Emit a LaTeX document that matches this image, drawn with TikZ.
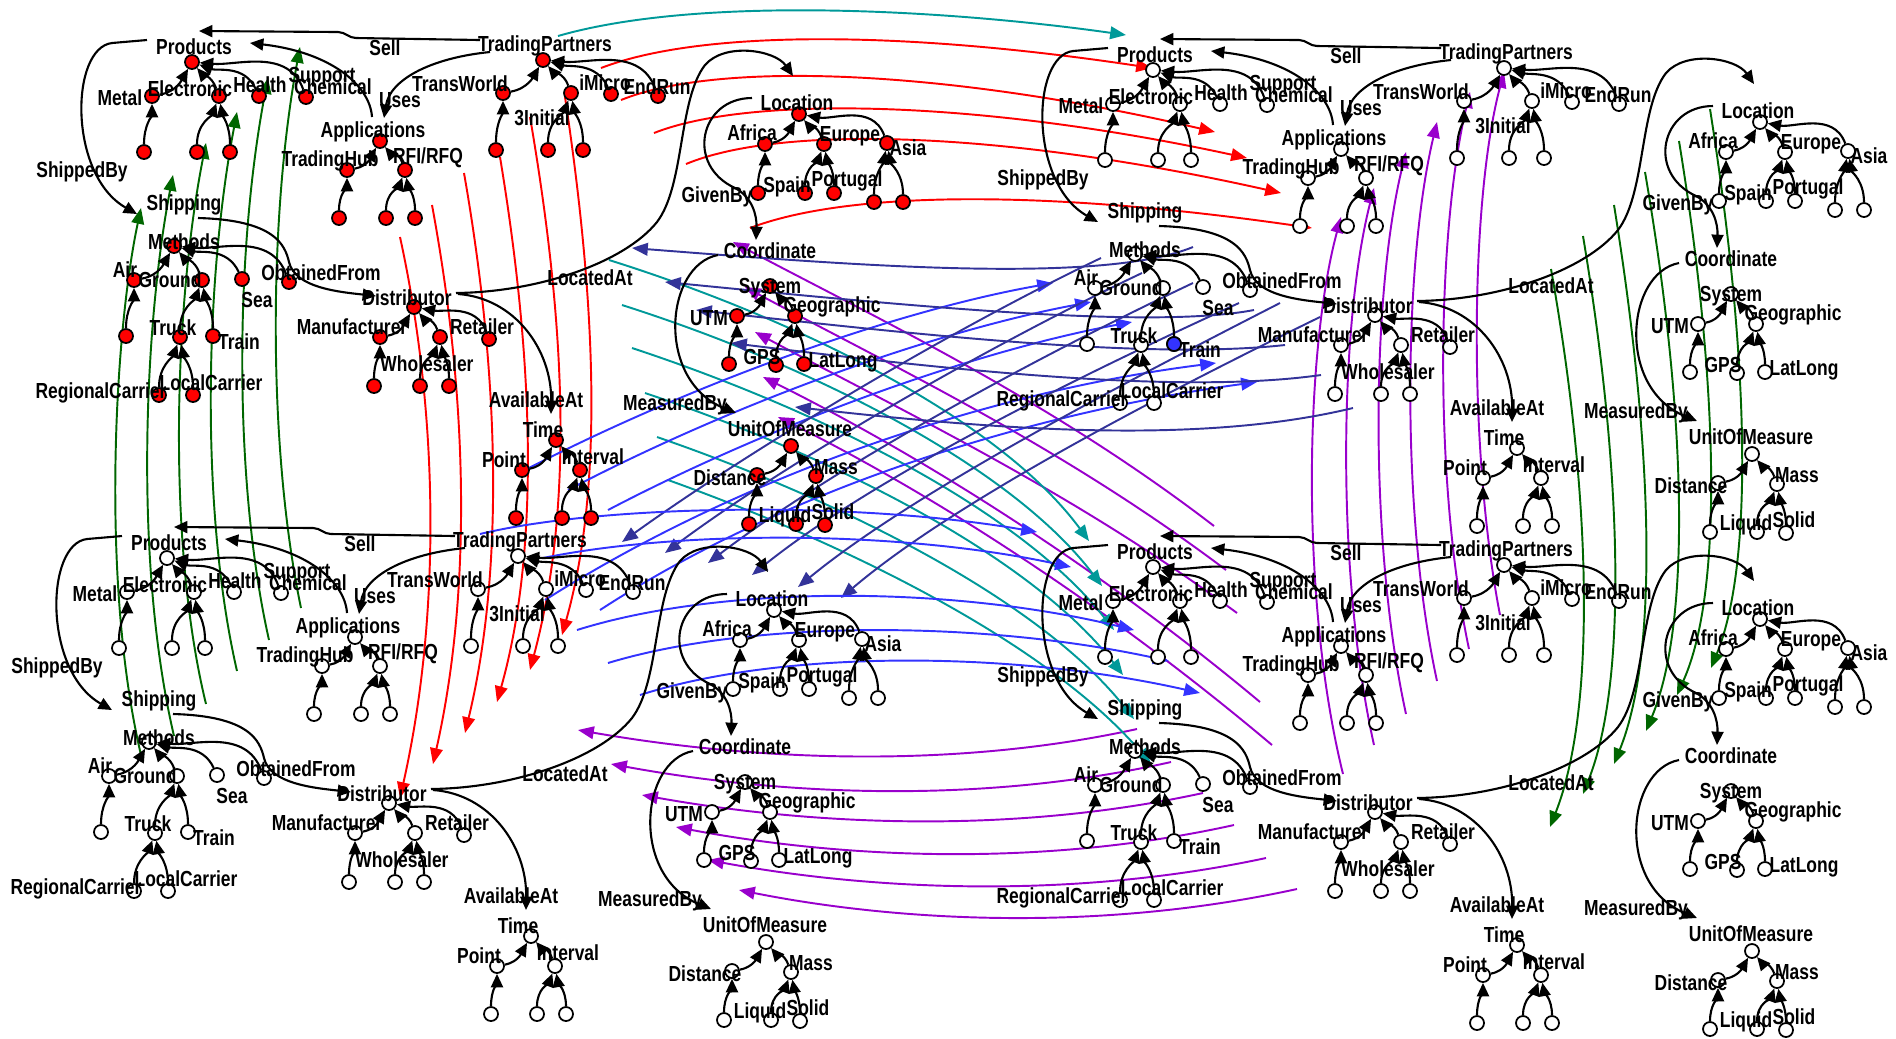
\documentclass[tikz,border=0pt]{standalone}
\usepackage{fontspec}
\setmainfont{Liberation Sans}[FakeStretch=0.8]
\usetikzlibrary{arrows.meta,backgrounds}
\definecolor{mred}{HTML}{FF0000}
\definecolor{mgreen}{HTML}{006600}
\definecolor{mteal}{HTML}{009999}
\definecolor{mblue}{HTML}{3333FF}
\definecolor{mslate}{HTML}{333399}
\definecolor{mpurple}{HTML}{9900CC}
\tikzset{
 cn/.style={circle,draw=black,line width=0.5pt,minimum size=0.14cm,inner sep=0pt,fill=white},
 lab/.style={font=\bfseries\fontsize{6.2}{7}\selectfont,inner sep=0pt},
 edg/.style={draw=black,line width=0.6pt,-{Triangle[length=3.8pt,width=3.4pt]}},
 map/.style={line width=0.55pt,-{Triangle[length=4.5pt,width=3.6pt]}},
}
\newcommand\onto[4]{%
\begin{scope}[shift={(#2,#3)},name prefix=#1-]
\foreach \n/\x/\y in {P/192/62, M/152/96, E/219/96, H/259/96, C/306/97, Ml/144/152, El1/197/152, El2/230/152,
 T/543/60, TW/503/93, TI/571/93, IM/611/94, ER/658/96, TWl/496/150, TIl1/548/150, TIl2/583/150,
 A/380/141, TH/347/170, R/405/170, THl/339/218, Rl1/386/218, Rl2/415/218,
 Me/174/246, Ai/134/280, G/202/280, Se/242/279, N4/289/282, Ail/126/336, Tk/180/337, Tn/213/336, RC/159/395, LC/193/395,
 D/414/307, Mf/380/337, W/440/337, Rt/489/339, Mfl/374/386, Wl1/420/386, Wl2/449/386,
 Ti/556/440, Pt/522/470, In/580/470, Ptl/516/518, Inl1/562/518, Inl2/591/518,
 L/799/114, Af/765/144, Eu/824/144, As/887/143, Sp/758/193, Eul/805/193, Po/834/193, Asl1/874/202, Asl2/903/202,
 Sy/770/286, Ut/737/316, Ge/795/316, Utl/729/364, Gel1/776/365, LL/804/364,
 U/791/446, Di/757/475, Ma/816/476, Dil/749/524, Lq/796/524, So/825/525}
 {\node[cn,fill=#4] (\n) at (\x,\y) {};}
\foreach \c/\p/\o/\i in {M/P/10/-120, E/P/110/-50, H/P/115/-20, C/P/110/-5, Ml/M/90/-90, El1/E/90/-110, El2/E/90/-80,
 TW/T/10/-120, TI/T/110/-50, IM/T/115/-15, ER/T/110/-5, TWl/TW/90/-90, TIl1/TI/90/-110, TIl2/TI/90/-80,
 TH/A/10/-120, R/A/110/-50, THl/TH/90/-90, Rl1/R/90/-110, Rl2/R/90/-80,
 Ai/Me/10/-120, G/Me/110/-50, Se/Me/115/-15, N4/Me/110/-5, Ail/Ai/90/-90, Tk/G/90/-110, Tn/G/90/-80, RC/Tk/90/-110, LC/Tk/90/-80,
 Mf/D/10/-120, W/D/110/-50, Rt/D/110/-10, Mfl/Mf/90/-90, Wl1/W/90/-110, Wl2/W/90/-80,
 Pt/Ti/10/-120, In/Ti/110/-50, Ptl/Pt/90/-90, Inl1/In/90/-110, Inl2/In/90/-80,
 Af/L/10/-120, Eu/L/110/-50, As/L/110/-10, Sp/Af/90/-90, Eul/Eu/90/-110, Po/Eu/90/-80, Asl1/As/90/-100, Asl2/As/90/-80,
 Ut/Sy/10/-120, Ge/Sy/110/-50, Utl/Ut/90/-90, Gel1/Ge/90/-110, LL/Ge/90/-80,
 Di/U/10/-120, Ma/U/110/-50, Dil/Di/90/-90, Lq/Ma/90/-110, So/Ma/90/-80}
 {\draw[edg] (\c) to[out=\o,in=\i] (\p);}
\foreach \n/\x/\y/\t in {lP/194/47/Products, lM/120/98/Metal, lE/190/89/Electronic, lH/260/85/Health, lC/333/87/Chemical,
 lSup/322/77/Support, lSell/385/48/Sell, lT/545/46/TradingPartners, lTW/460/84/TransWorld, lUses/400/100/Uses,
 lTI/542/118/3Initial, lIM/605/83/iMicro, lER/657/87/EndRun, lA/373/132/Applications, lTH/330/161/TradingHub,
 lSB/82/172/ShippedBy, lS/184/205/Shipping, lMe/184/242/Methods, lAi/125/270/Air, lG/170/280/Ground, lSe/257/300/Sea,
 lOF/321/273/ObtainedFrom, lTk/173/328/Truck, lTn/239/342/Train, lRC/101/393/RegionalCarrier, lLC/211/383/LocalCarrier,
 lD/407/298/Distributor, lMf/352/327/Manufacturer, lRt/482/327/Retailer, lW/427/364/Wholesaler, lLA/590/278/LocatedAt,
 lAA/536/400/AvailableAt, lTi/543/430/Time, lPt/504/460/Point, lIn/593/457/Interval, lL/797/103/Location,
 lAf/752/133/Africa, lEu/850/136/Europe, lAs/908/148/Asia, lSp/787/187/Spain, lPo/847/181/Portugal, lGB/717/197/GivenBy,
 lCo/770/251/Coordinate, lSy/770/288/System, lUt/709/318/UTM, lGe/832/307/Geographic, lGPS/762/357/GPS,
 lLL/843/362/LatLong, lMB/675/405/MeasuredBy, lU/790/429/UnitOfMeasure, lDi/730/478/Distance, lMa/836/467/Mass,
 lLq/785/517/Liquid, lSo/833/512/Solid}
 {\node[lab] (\n) at (\x,\y) {\t};}
\node[lab] (lR) at (428,158) {RFI/RFQ};
% property edges
\coordinate (sSell) at (480,40);
\coordinate (sUses) at (490,52);
\coordinate (sSup) at (372,117);
\coordinate (sSB) at (147,40);
\coordinate (sOF) at (198,218);
\coordinate (sLA) at (456,293);
\coordinate (sAA) at (458,294);
\coordinate (sGB) at (752,98);
\coordinate (sMB) at (718,255);
\coordinate (eSell) at (199,31);
\coordinate (eSup) at (250,43);
\coordinate (eUses) at (384,118);
\coordinate (eSB) at (137,214);
\coordinate (eOF) at (376,296);
\coordinate (eLA) at (793,76);
\coordinate (eAA) at (551,414);
\coordinate (eGB) at (756,240);
\coordinate (eMB) at (736,413);
\draw[edg] (sSell) -- (356,38) to[out=180,in=0] (338,32) -- (eSell);
\draw[edg] (sSup) .. controls (370,85) and (330,52) .. (eSup);
\draw[edg] (sUses) .. controls (430,58) and (390,80) .. (eUses);
\draw[edg] (sSB) -- (112,43) .. controls (70,48) and (68,175) .. (eSB);
\draw[edg] (sOF) .. controls (275,220) and (285,245) .. (289,262) .. controls (295,288) and (340,292) .. (eOF);
\draw[edg] (sLA) .. controls (540,292) and (625,262) .. (657,222) .. controls (685,185) and (678,100) .. (705,65) .. controls (725,42) and (775,50) .. (eLA);
\draw[edg] (sAA) .. controls (515,298) and (552,350) .. (eAA);
\draw[edg] (sGB) .. controls (700,98) and (685,165) .. (735,188) .. controls (752,197) and (757,215) .. (eGB);
\draw[edg] (sMB) .. controls (665,265) and (655,380) .. (eMB);
\end{scope}}
\begin{document}
\begin{tikzpicture}[x=0.01cm,y=-0.01cm]
\useasboundingbox (0,0) rectangle (1896,1038);
\onto{TL}{0}{0}{mred}
\onto{TR}{961}{8}{white}
\onto{BL}{-25}{496}{white}
\onto{BR}{961}{505}{white}
\node[cn,fill=mblue] (TRtrain) at (TR-Tn) {};
\begin{scope}[on background layer]
% teal top
\draw[map,mteal] (558,36) .. controls (700,-5) and (950,10) .. (1126,35);
% red TL -> TR
\draw[map,mred] (601,68) .. controls (700,30) and (900,30) .. (1152,68);
\draw[map,mred] (621,100) .. controls (720,60) and (950,70) .. (1215,132);
\draw[map,mred] (654,133) .. controls (750,95) and (980,100) .. (1247,158);
\draw[map,mred] (686,164) .. controls (780,125) and (1000,130) .. (1281,193);
\draw[map,mred] (750,228) .. controls (850,190) and (1050,190) .. (1312,228);
% red TL -> BL
\draw[map,mred] (400,237) .. controls (440,420) and (440,620) .. (400,798);
\draw[map,mred] (432,205) .. controls (470,410) and (470,600) .. (433,764);
\draw[map,mred] (464,173) .. controls (502,390) and (502,580) .. (465,733);
\draw[map,mred] (500,157) .. controls (537,380) and (537,560) .. (497,702);
\draw[map,mred] (530,117) .. controls (570,350) and (570,520) .. (530,670);
\draw[map,mred] (565,97) .. controls (600,330) and (600,500) .. (562,635);
% green BL -> TL
\draw[map,mgreen] (141,755) .. controls (100,580) and (115,330) .. (141,208);
\draw[map,mgreen] (174,736) .. controls (133,560) and (145,320) .. (173,175);
\draw[map,mgreen] (206,704) .. controls (166,540) and (175,300) .. (206,143);
\draw[map,mgreen] (237,671) .. controls (200,510) and (205,280) .. (237,112);
\draw[map,mgreen] (269,640) .. controls (233,480) and (235,250) .. (268,78);
\draw[map,mgreen] (301,608) .. controls (268,450) and (268,220) .. (300,47);
% green TR -> BR
\draw[map,mgreen] (1710,109) .. controls (1748,350) and (1755,560) .. (1711,668);
\draw[map,mgreen] (1679,141) .. controls (1718,380) and (1724,590) .. (1677,695);
\draw[map,mgreen] (1645,172) .. controls (1686,410) and (1692,620) .. (1646,731);
\draw[map,mgreen] (1614,205) .. controls (1652,440) and (1660,650) .. (1614,764);
\draw[map,mgreen] (1583,236) .. controls (1622,470) and (1628,680) .. (1583,794);
\draw[map,mgreen] (1551,269) .. controls (1592,500) and (1596,710) .. (1550,827);
% purple BR -> TR
\draw[map,mpurple] (1343,774) .. controls (1300,600) and (1305,350) .. (1341,217);
\draw[map,mpurple] (1374,745) .. controls (1335,570) and (1340,320) .. (1374,188);
\draw[map,mpurple] (1406,714) .. controls (1368,540) and (1372,290) .. (1406,152);
\draw[map,mpurple] (1437,681) .. controls (1400,510) and (1404,260) .. (1437,122);
\draw[map,mpurple] (1469,649) .. controls (1433,480) and (1437,230) .. (1470,92);
\draw[map,mpurple] (1500,615) .. controls (1468,450) and (1470,200) .. (1504,72);
% purple BR -> BL
\draw[map,mpurple] (1137,729) .. controls (950,770) and (750,760) .. (578,730);
\draw[map,mpurple] (1171,762) .. controls (980,805) and (780,795) .. (611,764);
\draw[map,mpurple] (1203,793) .. controls (1010,835) and (810,825) .. (642,795);
\draw[map,mpurple] (1234,825) .. controls (1040,868) and (840,858) .. (676,827);
\draw[map,mpurple] (1266,858) .. controls (1070,900) and (870,890) .. (708,860);
\draw[map,mpurple] (1297,889) .. controls (1100,932) and (900,922) .. (739,890);
% purple BR -> TL
\draw[map,mpurple] (1214,526) .. controls (1050,400) and (880,320) .. (733,242);
\draw[map,mpurple] (1226,570) .. controls (1060,445) and (890,365) .. (745,287);
\draw[map,mpurple] (1237,613) .. controls (1070,490) and (900,410) .. (755,332);
\draw[map,mpurple] (1260,702) .. controls (1090,560) and (910,450) .. (763,377);
\draw[map,mpurple] (1272,745) .. controls (1100,600) and (925,490) .. (778,417);
% teal TL -> BR
\draw[map,mteal] (609,260) .. controls (800,320) and (1000,420) .. (1089,541);
\draw[map,mteal] (622,305) .. controls (810,365) and (1010,465) .. (1102,586);
\draw[map,mteal] (632,348) .. controls (820,410) and (1020,510) .. (1114,630);
\draw[map,mteal] (645,393) .. controls (830,455) and (1030,555) .. (1123,675);
\draw[map,mteal] (657,437) .. controls (840,500) and (1040,600) .. (1134,719);
\draw[map,mteal] (668,480) .. controls (850,545) and (1050,645) .. (1151,764);
% blue TL -> TR
\draw[map,mblue] (525,470) .. controls (700,380) and (900,310) .. (1053,283);
\draw[map,mblue] (568,490) .. controls (740,400) and (940,330) .. (1091,302);
\draw[map,mblue] (608,510) .. controls (780,420) and (980,350) .. (1132,322);
\draw[map,mblue] (545,600) .. controls (750,470) and (1000,390) .. (1216,363);
\draw[map,mblue] (600,610) .. controls (800,480) and (1050,410) .. (1257,382);
% slate TR -> TL
\draw[map,mslate] (1193,247) .. controls (1100,285) and (850,265) .. (632,248);
\draw[map,mslate] (1254,310) .. controls (1150,330) and (900,305) .. (665,282);
\draw[map,mslate] (1285,345) .. controls (1150,360) and (920,335) .. (696,310);
\draw[map,mslate] (1321,375) .. controls (1180,395) and (950,370) .. (731,343);
\draw[map,mslate] (1353,408) .. controls (1200,445) and (1000,430) .. (795,407);
% slate TR -> BL
\draw[map,mslate] (1101,258) .. controls (950,330) and (750,450) .. (622,542);
\draw[map,mslate] (1142,273) .. controls (990,345) and (790,460) .. (665,553);
\draw[map,mslate] (1193,283) .. controls (1030,360) and (830,470) .. (708,563);
\draw[map,mslate] (1239,303) .. controls (1070,380) and (870,480) .. (752,575);
\draw[map,mslate] (1280,303) .. controls (1110,390) and (910,495) .. (798,587);
\draw[map,mslate] (1320,317) .. controls (1150,400) and (950,505) .. (841,598);
% blue BL -> BR
\draw[map,mblue] (480,534) .. controls (600,505) and (850,500) .. (1037,532);
\draw[map,mblue] (543,558) .. controls (680,530) and (900,530) .. (1071,567);
\draw[map,mblue] (577,630) .. controls (720,585) and (950,585) .. (1134,630);
\draw[map,mblue] (608,663) .. controls (750,620) and (980,620) .. (1169,661);
\draw[map,mblue] (640,695) .. controls (780,650) and (1010,650) .. (1200,693);
\end{scope}
\end{tikzpicture}
\end{document}
